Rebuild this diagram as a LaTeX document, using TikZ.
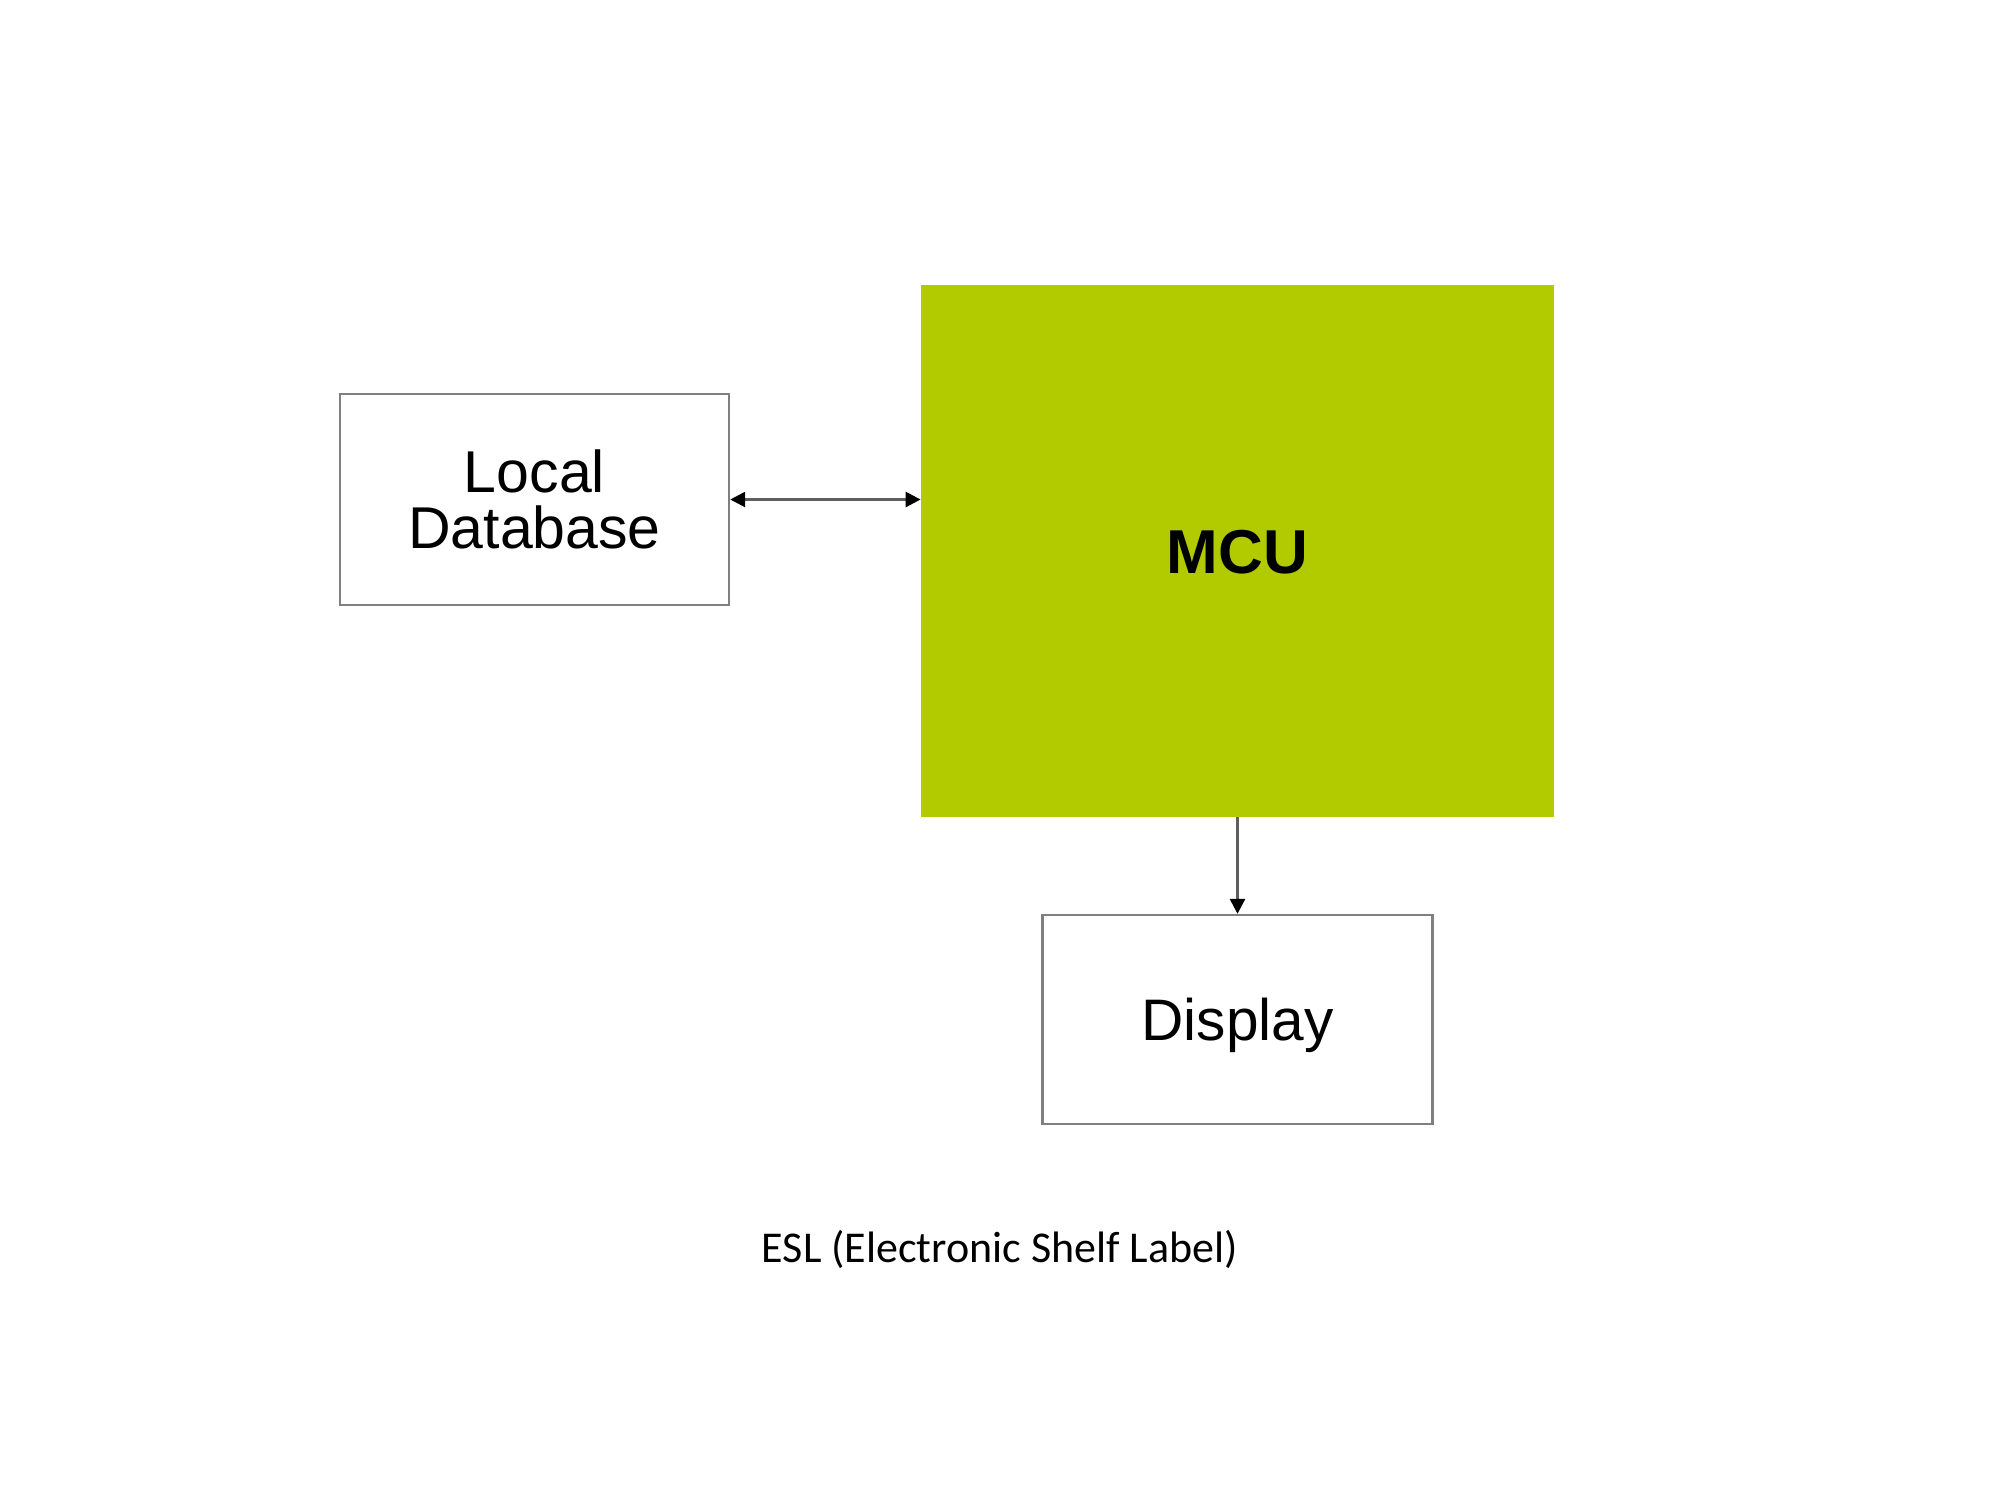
\documentclass[tikz,border=0pt]{standalone}
\usepackage{fontspec}
\setmainfont{Liberation Sans}
\newfontfamily\capfont{Carlito}
\usetikzlibrary{arrows.meta}
\definecolor{mcugreen}{RGB}{178,203,0}
\definecolor{boxgray}{RGB}{128,128,128}
\definecolor{linegray}{RGB}{95,95,95}
\begin{document}
\begin{tikzpicture}[x=0.5pt,y=-0.5pt,
  whitebox/.style={draw=boxgray,line width=1.2pt,fill=white,inner sep=0pt,align=center},
  conn/.style={draw=linegray,line width=1.3pt},
  tip/.style={-{Triangle[length=7.5pt,width=7.5pt,color=black]}},
  tips/.style={{Triangle[length=7.5pt,width=7.5pt,color=black]}-{Triangle[length=7.5pt,width=7.5pt,color=black]}}]
\useasboundingbox[fill=white] (0,0) rectangle (2000,1500);
\node[whitebox,minimum width=194.5pt,minimum height=105.5pt,
  font=\fontsize{29.5}{28}\selectfont] (ld) at (534.5,499.5) {Local\\Database};
\node[fill=mcugreen,inner sep=0pt,minimum width=316.5pt,minimum height=266pt,
  font=\fontsize{31}{36}\selectfont\bfseries,text height=22.3pt,text depth=0pt] (mcu) at (1237.5,551) {MCU};
\node[whitebox,minimum width=195pt,minimum height=104.5pt,
  font=\fontsize{29.3}{34}\selectfont,text height=21pt,text depth=0pt] (disp) at (1237.5,1019.5) {Display};
\draw[conn,tips] (ld.east) -- (ld.east -| mcu.west);
\draw[conn,tip] (mcu.south) -- (disp.north);
\node[anchor=base,inner sep=0pt,font=\capfont\fontsize{22}{26}\selectfont] (cap) at (1000,1262) {ESL (Electronic Shelf Label)};
\end{tikzpicture}
\end{document}
